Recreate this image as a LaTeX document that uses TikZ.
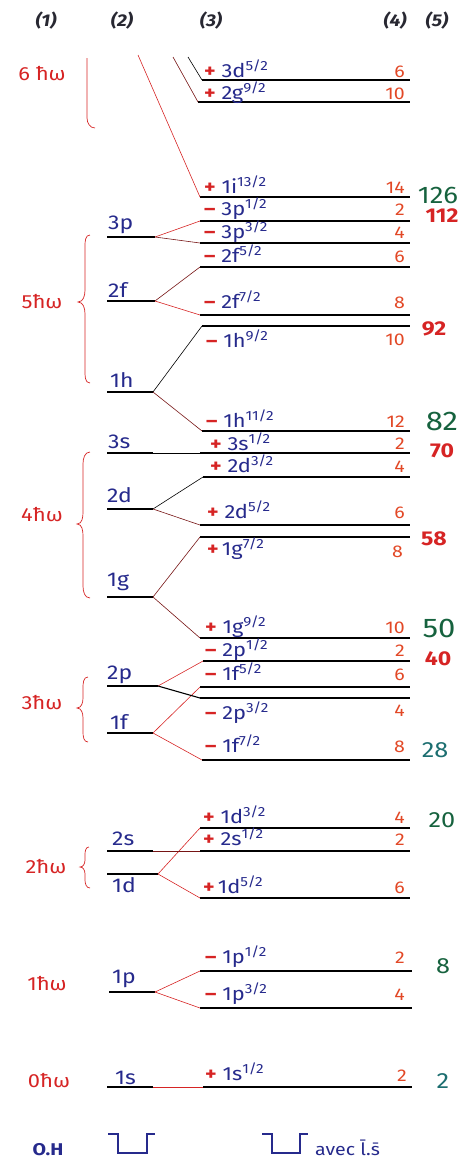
\documentclass[tikz,border=0pt]{standalone}
\usepackage{fontspec}
\setmainfont{Fira Sans}[FakeStretch=1.15]
\usepackage{xcolor}
\definecolor{hwblue}{RGB}{38,42,140}
\definecolor{hwred}{RGB}{214,36,36}
\definecolor{hworange}{RGB}{226,72,38}
\definecolor{hwgreen}{RGB}{22,98,62}
\definecolor{hwteal}{RGB}{28,110,112}
\definecolor{hwdark}{RGB}{40,40,50}
\usepackage{tikz}
\usetikzlibrary{positioning}
\newcommand{\psign}{\textcolor{hwred}{\bfseries +}}
\newcommand{\msign}{\textcolor{hwred}{\bfseries –}}

\begin{document}
\begin{tikzpicture}[x=1pt, y=-1pt,
  lev/.style={line width=2.1pt},
  conr/.style={hwred, line width=0.6pt},
  conb/.style={black, line width=0.6pt},
  conm/.style={hwred!55!black, line width=0.6pt},
  brc/.style={hwred, line width=0.7pt},
  orb/.style={anchor=base west, inner sep=0pt, text=hwblue, font=\fontsize{19}{19}\selectfont},
  shl/.style={anchor=base west, inner sep=0pt, text=hwblue, font=\fontsize{20}{20}\selectfont},
  degn/.style={anchor=base east, inner sep=0pt, text=hworange, font=\fontsize{17}{17}\selectfont},
  mgrn/.style={anchor=base, inner sep=0pt, text=hwgreen, font=\fontsize{24}{24}\selectfont},
  mred/.style={anchor=base, inner sep=0pt, text=hwred, font=\bfseries\fontsize{20}{20}\selectfont},
  osc/.style={text=hwred, inner sep=0pt, font=\fontsize{19}{19}\selectfont},
  hdr/.style={text=hwdark, inner sep=0pt, font=\bfseries\itshape\fontsize{17}{17}\selectfont}]
  \useasboundingbox (0,0) rectangle (466,1162);

  % column headers
  \node[hdr] (h1) at (46,21) {(1)};
  \node[hdr] (h2) at (122,21) {(2)};
  \node[hdr] (h3) at (211,21) {(3)};
  \node[hdr] (h4) at (395,21) {(4)};
  \node[hdr] (h5) at (437,21) {(5)};

  % 6 hbar omega -- levels come from above
  \node[osc] (o6) at (42,74) {6 ħω};
  \draw[brc] (87,58) -- (87,118) to[out=-90,in=180] (95,128);
  \coordinate (t1i) at (138,55);
  \coordinate (t2g) at (173,57);
  \coordinate (t3d) at (188,57);

  \coordinate (j3d5) at (202,80);
  \draw[lev] (j3d5) -- ++(208,0);
  \node[orb] (l3d5) at (204,77) {\psign\ 3d\textsuperscript{5/2}};
  \node[degn] (d3d5) at (405,77) {6};
  \draw[conb] (t3d) -- (j3d5);

  \coordinate (j2g9) at (198,102);
  \draw[lev] (j2g9) -- ++(212,0);
  \node[orb] (l2g9) at (204,99) {\psign\ 2g\textsuperscript{9/2}};
  \node[degn] (d2g9) at (405,99) {10};
  \draw[conm] (t2g) -- (j2g9);

  \coordinate (j1i13) at (200,197);
  \draw[lev] (j1i13) -- ++(210,0);
  \node[orb] (l1i13) at (204,193) {\psign\ 1i\textsuperscript{13/2}};
  \node[degn] (d1i13) at (405,193) {14};
  \node[mgrn] (m126) at (438,203) {126};
  \draw[conr] (t1i) -- (j1i13);

  % 5 hbar omega
  \node[osc] (o5) at (42,302) {5ħω};
  \draw[brc] (90,235) to[out=180,in=90] (85,246) -- (85,290) to[out=-90,in=0] (78,302)
       to[out=0,in=90] (85,314) -- (85,370) to[out=-90,in=180] (90,383);

  \coordinate (s3p) at (155,237);
  \draw[lev] (s3p) -- ++(-48,0);
  \node[shl] (n3p) at (108,229) {3p};
  \coordinate (s2f) at (155,301);
  \draw[lev] (s2f) -- ++(-48,0);
  \node[shl] (n2f) at (108,297) {2f};
  \coordinate (s1h) at (153,392);
  \draw[lev] (s1h) -- ++(-46,0);
  \node[shl] (n1h) at (110,387) {1h};

  \coordinate (j3p1) at (200,221);
  \draw[lev] (j3p1) -- ++(210,0);
  \node[orb] (l3p1) at (204,215) {\msign\ 3p\textsuperscript{1/2}};
  \node[degn] (d3p1) at (405,215) {2};
  \node[mred] (m112) at (442,222) {112};
  \draw[conr] (s3p) -- (j3p1);

  \coordinate (j3p3) at (200,243);
  \draw[lev] (j3p3) -- ++(210,0);
  \node[orb] (l3p3) at (204,238) {\msign\ 3p\textsuperscript{3/2}};
  \node[degn] (d3p3) at (405,238) {4};
  \draw[conm] (s3p) -- (j3p3);

  \coordinate (j2f5) at (200,267);
  \draw[lev] (j2f5) -- ++(210,0);
  \node[orb] (l2f5) at (204,262) {\msign\ 2f\textsuperscript{5/2}};
  \node[degn] (d2f5) at (405,262) {6};
  \draw[conm] (s2f) -- (j2f5);

  \coordinate (j2f7) at (200,315);
  \draw[lev] (j2f7) -- ++(210,0);
  \node[orb] (l2f7) at (204,308) {\msign\ 2f\textsuperscript{7/2}};
  \node[degn] (d2f7) at (405,308) {8};
  \draw[conr] (s2f) -- (j2f7);

  \coordinate (j1h9) at (202,326);
  \draw[lev] (j1h9) -- ++(208,0);
  \node[orb] (l1h9) at (206,347) {\msign\ 1h\textsuperscript{9/2}};
  \node[degn] (d1h9) at (405,345) {10};
  \node[mred] (m92) at (434,335) {92};
  \draw[conb] (s1h) -- (j1h9);

  \coordinate (j1h11) at (202,431);
  \draw[lev] (j1h11) -- ++(208,0);
  \node[orb] (l1h11) at (206,427) {\msign\ 1h\textsuperscript{11/2}};
  \node[degn] (d1h11) at (405,427) {12};
  \node[mgrn, font=\fontsize{27}{27}\selectfont] (m82) at (442,430) {82};
  \draw[conm] (s1h) -- (j1h11);

  % 4 hbar omega
  \node[osc] (o4) at (42,515) {4ħω};
  \draw[brc] (90,452) to[out=180,in=90] (83,464) -- (83,512) to[out=-90,in=0] (77,524)
       to[out=0,in=90] (83,536) -- (83,586) to[out=-90,in=180] (90,598);

  \coordinate (s3s) at (153,453);
  \draw[lev] (s3s) -- ++(-46,0);
  \node[shl] (n3s) at (108,448) {3s};
  \coordinate (s2d) at (153,509);
  \draw[lev] (s2d) -- ++(-46,0);
  \node[shl] (n2d) at (107,502) {2d};
  \coordinate (s1g) at (153,597);
  \draw[lev] (s1g) -- ++(-46,0);
  \node[shl] (n1g) at (107,586) {1g};

  \coordinate (j3s1) at (200,453);
  \draw[lev] (j3s1) -- ++(210,0);
  \node[orb] (l3s1) at (210,450) {\psign\ 3s\textsuperscript{1/2}};
  \node[degn] (d3s1) at (405,449) {2};
  \node[mred] (m70) at (442,457) {70};
  \draw[conb, line width=1pt] (s3s) -- (j3s1);

  \coordinate (j2d3) at (203,477);
  \draw[lev] (j2d3) -- ++(207,0);
  \node[orb] (l2d3) at (210,472) {\psign\ 2d\textsuperscript{3/2}};
  \node[degn] (d2d3) at (405,472) {4};
  \draw[conb] (s2d) -- (j2d3);

  \coordinate (j2d5) at (200,525);
  \draw[lev] (j2d5) -- ++(210,0);
  \node[orb] (l2d5) at (207,518) {\psign\ 2d\textsuperscript{5/2}};
  \node[degn] (d2d5) at (405,518) {6};
  \draw[conm] (s2d) -- (j2d5);

  \coordinate (j1g7) at (200,537);
  \draw[lev] (j1g7) -- ++(210,0);
  \node[orb] (l1g7) at (207,555) {\psign\,1g\textsuperscript{7/2}};
  \node[degn] (d1g7) at (403,557) {8};
  \node[mred] (m58) at (434,545) {58};
  \draw[conm] (s1g) -- (j1g7);

  \coordinate (j1g9) at (200,638);
  \draw[lev] (j1g9) -- ++(210,0);
  \node[orb] (l1g9) at (205,633) {\psign\ 1g\textsuperscript{9/2}};
  \node[degn] (d1g9) at (405,633) {10};
  \node[mgrn, font=\fontsize{27}{27}\selectfont] (m50) at (439,637) {50};
  \draw[conm] (s1g) -- (j1g9);

  % 3 hbar omega
  \node[osc] (o3) at (42,702) {3ħω};
  \draw[brc] (88,677) to[out=180,in=90] (83,688) -- (83,698) to[out=-90,in=0] (77,708)
       to[out=0,in=90] (83,718) -- (83,732) to[out=-90,in=180] (88,742);

  \coordinate (s2p) at (158,686);
  \draw[lev] (s2p) -- ++(-51,0);
  \node[shl] (n2p) at (107,679) {2p};
  \coordinate (s1f) at (153,733);
  \draw[lev] (s1f) -- ++(-46,0);
  \node[shl] (n1f) at (110,729) {1f};

  \coordinate (j2p1) at (203,661);
  \draw[lev] (j2p1) -- ++(207,0);
  \node[orb] (l2p1) at (205,656) {\msign\ 2p\textsuperscript{1/2}};
  \node[degn] (d2p1) at (405,656) {2};
  \node[mred] (m40) at (438,665) {40};
  \draw[conr] (s2p) -- (j2p1);

  \coordinate (j1f5) at (200,687);
  \draw[lev] (j1f5) -- ++(210,0);
  \node[orb] (l1f5) at (205,680) {\msign\ 1f\textsuperscript{5/2}};
  \node[degn] (d1f5) at (405,680) {6};
  \draw[conr] (s1f) -- (j1f5);

  \coordinate (j2p3) at (200,698);
  \draw[lev] (j2p3) -- ++(210,0);
  \node[orb] (l2p3) at (205,719) {\msign\ 2p\textsuperscript{3/2}};
  \node[degn] (d2p3) at (405,716) {4};
  \draw[conb, line width=1.1pt] (s2p) -- (j2p3);

  \coordinate (j1f7) at (202,760);
  \draw[lev] (j1f7) -- ++(208,0);
  \node[orb] (l1f7) at (205,752) {\msign\ 1f\textsuperscript{7/2}};
  \node[degn] (d1f7) at (405,752) {8};
  \node[mgrn, text=hwteal, font=\fontsize{22}{22}\selectfont] (m28) at (435,757) {28};
  \draw[conr] (s1f) -- (j1f7);

  % 2 hbar omega
  \node[osc] (o2) at (46,866) {2ħω};
  \draw[brc] (89,847) to[out=180,in=90] (85,855) -- (85,860) to[out=-90,in=0] (80,867)
       to[out=0,in=90] (85,874) -- (85,880) to[out=-90,in=180] (90,888);

  \coordinate (s2s) at (153,851);
  \draw[lev] (s2s) -- ++(-46,0);
  \node[shl] (n2s) at (112,845) {2s};
  \coordinate (s1d) at (158,874);
  \draw[lev] (s1d) -- ++(-51,0);
  \node[shl] (n1d) at (112,892) {1d};

  \coordinate (j1d3) at (200,828);
  \draw[lev] (j1d3) -- ++(210,0);
  \node[orb] (l1d3) at (203,823) {\psign\ 1d\textsuperscript{3/2}};
  \node[degn] (d1d3) at (405,823) {4};
  \node[mgrn, font=\fontsize{22}{22}\selectfont] (m20) at (442,827) {20};
  \draw[conr] (s1d) -- (j1d3);

  \coordinate (j2s1) at (200,851);
  \draw[lev] (j2s1) -- ++(210,0);
  \node[orb] (l2s1) at (203,845) {\psign\ 2s\textsuperscript{1/2}};
  \node[degn] (d2s1) at (405,845) {2};
  \draw[conm] (s2s) -- (j2s1);

  \coordinate (j1d5) at (200,898);
  \draw[lev] (j1d5) -- ++(210,0);
  \node[orb] (l1d5) at (203,893) {\psign\,1d\textsuperscript{5/2}};
  \node[degn] (d1d5) at (405,893) {6};
  \draw[conr] (s1d) -- (j1d5);

  % 1 hbar omega
  \node[osc] (o1) at (47,983) {1ħω};
  \coordinate (s1p) at (155,992);
  \draw[lev] (s1p) -- ++(-46,0);
  \node[shl] (n1p) at (112,983) {1p};

  \coordinate (j1p1) at (200,971);
  \draw[lev] (j1p1) -- ++(212,0);
  \node[orb] (l1p1) at (205,963) {\msign\ 1p\textsuperscript{1/2}};
  \node[degn] (d1p1) at (405,963) {2};
  \node[mgrn, font=\fontsize{22}{22}\selectfont] (m8) at (443,973) {8};
  \draw[conr] (s1p) -- (j1p1);

  \coordinate (j1p3) at (200,1008);
  \draw[lev] (j1p3) -- ++(212,0);
  \node[orb] (l1p3) at (205,1000) {\msign\ 1p\textsuperscript{3/2}};
  \node[degn] (d1p3) at (405,1000) {4};
  \draw[conr] (s1p) -- (j1p3);

  % 0 hbar omega
  \node[osc] (o0) at (49,1080) {0ħω};
  \coordinate (s1s) at (153,1087);
  \draw[lev] (s1s) -- ++(-46,0);
  \node[shl] (n1s) at (115,1084) {1s};

  \coordinate (j1s1) at (203,1087);
  \draw[lev] (j1s1) -- ++(209,0);
  \node[orb] (l1s1) at (205,1080) {\psign\ 1s\textsuperscript{1/2}};
  \node[degn] (d1s1) at (407,1081) {2};
  \node[mgrn, text=hwteal, font=\fontsize{22}{22}\selectfont] (m2) at (443,1088) {2};
  \draw[conr] (s1s) -- (j1s1);

  % potential wells at the bottom
  \node[text=hwblue, font=\bfseries\fontsize{17}{17}\selectfont] (oh) at (48,1150) {O.H};
  \draw[hwblue, line width=1.8pt] (108,1134) -- (118,1134) -- (118,1153) -- (147,1153)
       -- (147,1134) -- (155,1134);
  \draw[hwblue, line width=1.8pt] (262,1134) -- (272,1134) -- (272,1153) -- (300,1153)
       -- (300,1134) -- (308,1134);
  \node[text=hwblue, anchor=west, inner sep=0pt, font=\fontsize{17}{17}\selectfont] (avec) at (315,1148)
       {avec \={l}.\={s}};
\end{tikzpicture}
\end{document}
